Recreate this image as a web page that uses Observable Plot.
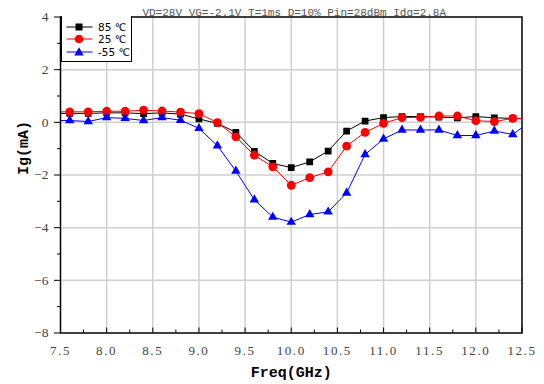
<!DOCTYPE html>
<html><head><meta charset="utf-8">
<script src="https://cdn.jsdelivr.net/npm/d3@7"></script>
<script src="https://cdn.jsdelivr.net/npm/@observablehq/plot@0.6"></script>
<style>
html,body{margin:0;padding:0;background:#fff;}
#wrap{position:relative;width:544px;height:384px;}
#legend{position:absolute;left:61px;top:16px;width:71px;height:46px;border:1px solid #000;border-top:none;background:#fff;box-sizing:border-box;font-family:"DejaVu Sans",sans-serif;font-size:10.5px;color:#000;}
.row{position:absolute;left:4px;width:66px;height:12px;}
.row svg{position:absolute;left:0;top:0;}
.row span{position:absolute;left:32px;top:-1px;white-space:nowrap;line-height:14px;}
g[aria-label="x-axis tick label"] text{letter-spacing:1.6px;}
</style></head><body>
<div id="wrap"><div id="legend"></div></div>
<script>
const title = "VD=28V VG=-2.1V T=1ms D=10% Pin=28dBm Idq=2.8A";
const freq  = [7.4, 7.6, 7.8, 8.0, 8.2, 8.4, 8.6, 8.8, 9.0, 9.2, 9.4, 9.6, 9.8, 10.0, 10.2, 10.4, 10.6, 10.8, 11.0, 11.2, 11.4, 11.6, 11.8, 12.0, 12.2, 12.4, 12.6];
const ig85  = [0.34, 0.34, 0.34, 0.36, 0.36, 0.33, 0.36, 0.31, 0.13, -0.04, -0.38, -1.10, -1.56, -1.72, -1.50, -1.09, -0.33, 0.05, 0.18, 0.22, 0.22, 0.20, 0.17, 0.22, 0.17, 0.15, 0.15];
const ig25  = [0.40, 0.40, 0.40, 0.42, 0.42, 0.46, 0.43, 0.39, 0.33, -0.01, -0.55, -1.25, -1.69, -2.39, -2.10, -1.88, -0.90, -0.38, -0.04, 0.18, 0.19, 0.24, 0.24, 0.06, 0.03, 0.15, 0.12];
const igm55 = [0.07, 0.07, 0.03, 0.18, 0.15, 0.07, 0.18, 0.08, -0.23, -0.89, -1.85, -2.94, -3.60, -3.79, -3.50, -3.40, -2.68, -1.22, -0.63, -0.29, -0.29, -0.29, -0.50, -0.50, -0.33, -0.46, 0.06];
const seriesNames = ["85 ℃", "25 ℃", "-55 ℃"];
const seriesColors = ["#000000", "#ff0000", "#0000ff"];
const seriesSymbols = ["square", "circle", "triangle"];
const seriesR = [3.8, 4.4, 3.5];
const xTicks = [7.5, 8.0, 8.5, 9.0, 9.5, 10.0, 10.5, 11.0, 11.5, 12.0, 12.5];
const xMinor = [7.75, 8.25, 8.75, 9.25, 9.75, 10.25, 10.75, 11.25, 11.75, 12.25];
const yTicks = [-8, -6, -4, -2, 0, 2, 4];
const yMinor = [-7, -5, -3, -1, 1, 3];
const xGrid = [8.0, 8.5, 9.0, 9.5, 10.0, 10.5, 11.0, 11.5, 12.0];
const yGrid = [-6, -4, -2, 0, 2];

const allSeries = [ig85, ig25, igm55];
const rows = [];
allSeries.forEach((vals, s) => vals.forEach((v, i) => rows.push({f: freq[i], v, s})));

const marks = [
  Plot.gridX(xGrid, {stroke: "#cfcfcf", strokeOpacity: 1, strokeWidth: 1.5}),
  Plot.gridY(yGrid, {stroke: "#cfcfcf", strokeOpacity: 1, strokeWidth: 1.5}),
];
allSeries.forEach((vals, s) => {
  const d = rows.filter(r => r.s === s);
  marks.push(Plot.line(d, {x: "f", y: "v", stroke: seriesColors[s], strokeWidth: 1, clip: true}));
});
allSeries.forEach((vals, s) => {
  const d = rows.filter(r => r.s === s);
  marks.push(Plot.dot(d, {x: "f", y: "v", fill: seriesColors[s], stroke: "none", symbol: () => seriesSymbols[s], r: seriesR[s], clip: true}));
});
marks.push(
  Plot.frame({stroke: "#000", strokeWidth: 1.5}),
  Plot.axisY({ticks: yTicks, tickSize: 6, text: null, label: null, stroke: "#000"}),
  Plot.axisY({ticks: yMinor, tickSize: 3, text: null, label: null, stroke: "#000"}),
  Plot.axisY({ticks: yTicks, tickSize: 0, tickPadding: 12, tickFormat: d3.format(""), fontSize: 13.5, fontFamily: "Liberation Serif", fill: "#444", label: null}),
  Plot.axisX({ticks: xTicks, tickSize: -5, text: null, label: null, stroke: "#000"}),
  Plot.axisX({ticks: xMinor, tickSize: -3, text: null, label: null, stroke: "#000"}),
  Plot.axisX({ticks: xTicks, tickSize: 0, tickPadding: 13, tickFormat: d3.format(".1f"), fontSize: 13, fontFamily: "Liberation Serif", fill: "#444", label: null}),
  Plot.text([title], {frameAnchor: "top", dy: -1, dx: 3, lineAnchor: "bottom", fontSize: 11, fontFamily: "Liberation Mono", fill: "#555"}),
  Plot.text(["Freq(GHz)"], {frameAnchor: "bottom", dy: 44, lineAnchor: "bottom", fontSize: 15, fontWeight: "bold", fontFamily: "Liberation Mono", fill: "#000"}),
  Plot.text(["Ig(mA)"], {frameAnchor: "left", dx: -37, rotate: -90, fontSize: 15, fontWeight: "bold", fontFamily: "Liberation Mono", fill: "#000"})
);

const chart = Plot.plot({
  width: 544, height: 384,
  marginLeft: 60, marginRight: 22.5, marginTop: 16.5, marginBottom: 51.5,
  x: {domain: [7.5, 12.5]},
  y: {domain: [-8, 4]},
  style: {background: "#fff", overflow: "visible"},
  marks
});
const wrap = document.getElementById("wrap");
wrap.insertBefore(chart, wrap.firstChild);

// legend
const legend = document.getElementById("legend");
seriesNames.forEach((name, s) => {
  const row = document.createElement("div");
  row.className = "row";
  row.style.top = (4.5 + s * 12.8) + "px";
  const sym = seriesSymbols[s];
  const c = seriesColors[s];
  let shape;
  if (sym === "square") shape = `<rect x="9.5" y="2.5" width="7" height="7" fill="${c}"/>`;
  else if (sym === "circle") shape = `<circle cx="13" cy="6" r="4.3" fill="${c}"/>`;
  else shape = `<path d="M13,1.2 L17.7,9.4 L8.3,9.4 Z" fill="${c}"/>`;
  row.innerHTML = `<svg width="27" height="12"><line x1="0.5" x2="26.5" y1="6" y2="6" stroke="${c}" stroke-width="1"/>${shape}</svg><span>${name}</span>`;
  legend.appendChild(row);
});
</script>
</body></html>
